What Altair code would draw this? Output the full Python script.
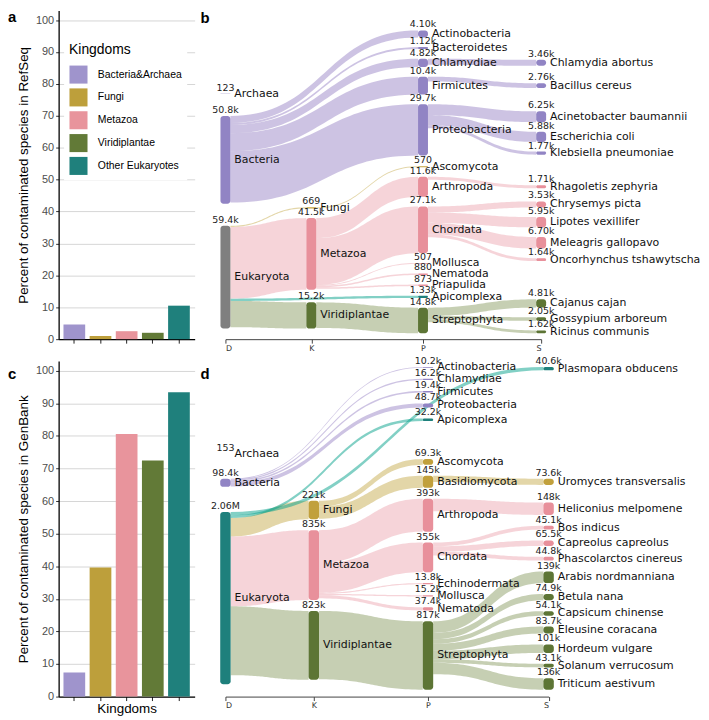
import altair as alt
import pandas as pd
import numpy as np

# ---------------- bar panels (a, c) ----------------
kingdoms = ["Bacteria&Archaea", "Fungi", "Metazoa", "Viridiplantae", "Other Eukaryotes"]
kingdom_colors = ["#9f94cc", "#bd9f3b", "#e8949c", "#627a37", "#1f807c"]
refseq_pct = [4.6, 1.0, 2.5, 2.0, 10.5]
genbank_pct = [7.4, 39.6, 80.6, 72.5, 93.4]
y_ticks = [0, 10, 20, 30, 40, 50, 60, 70, 80, 90, 100]

# ---------------- sankey panel b (RefSeq) ----------------
LEVELS = ["D", "K", "P", "S"]
b_names = ["Archaea", "Bacteria", "Eukaryota",
           "Fungi", "Metazoa", "Viridiplantae",
           "Actinobacteria", "Bacteroidetes", "Chlamydiae", "Firmicutes", "Proteobacteria",
           "Ascomycota", "Arthropoda", "Chordata", "Mollusca", "Nematoda", "Priapulida",
           "Apicomplexa", "Streptophyta",
           "Chlamydia abortus", "Bacillus cereus", "Acinetobacter baumannii", "Escherichia coli",
           "Klebsiella pneumoniae", "Rhagoletis zephyria", "Chrysemys picta", "Lipotes vexillifer",
           "Meleagris gallopavo", "Oncorhynchus tshawytscha", "Cajanus cajan", "Gossypium arboreum",
           "Ricinus communis"]
b_levels = ["D"] * 3 + ["K"] * 3 + ["P"] * 13 + ["S"] * 13
b_values = [123, 50800, 59400,
            669, 41500, 15200,
            4100, 1120, 4820, 10400, 29700, 570, 11600, 27100, 507, 880, 873, 1330, 14800,
            3460, 2760, 6250, 5880, 1770, 1710, 3530, 5950, 6700, 1640, 4810, 2050, 1620]
b_parents = ["", "", "",
             "Eukaryota", "Eukaryota", "Eukaryota",
             "Bacteria", "Bacteria", "Bacteria", "Bacteria", "Bacteria",
             "Fungi", "Metazoa", "Metazoa", "Metazoa", "Metazoa", "Metazoa",
             "Eukaryota", "Viridiplantae",
             "Chlamydiae", "Firmicutes", "Proteobacteria", "Proteobacteria", "Proteobacteria",
             "Arthropoda", "Chordata", "Chordata", "Chordata", "Chordata",
             "Streptophyta", "Streptophyta", "Streptophyta"]
b_groups = ["BA", "BA", "EU", "FU", "ME", "VI",
            "BA", "BA", "BA", "BA", "BA", "FU", "ME", "ME", "ME", "ME", "ME", "OE", "VI",
            "BA", "BA", "BA", "BA", "BA", "ME", "ME", "ME", "ME", "ME", "VI", "VI", "VI"]

# ---------------- sankey panel d (GenBank) ----------------
d_names = ["Archaea", "Bacteria", "Eukaryota",
           "Fungi", "Metazoa", "Viridiplantae",
           "Actinobacteria", "Chlamydiae", "Firmicutes", "Proteobacteria", "Apicomplexa",
           "Ascomycota", "Basidiomycota", "Arthropoda", "Chordata", "Echinodermata",
           "Mollusca", "Nematoda", "Streptophyta",
           "Plasmopara obducens", "Uromyces transversalis", "Heliconius melpomene",
           "Bos indicus", "Capreolus capreolus", "Phascolarctos cinereus",
           "Arabis nordmanniana", "Betula nana", "Capsicum chinense", "Eleusine coracana",
           "Hordeum vulgare", "Solanum verrucosum", "Triticum aestivum"]
d_levels = ["D"] * 3 + ["K"] * 3 + ["P"] * 13 + ["S"] * 13
d_values = [153, 98400, 2060000,
            221000, 835000, 823000,
            10200, 16200, 19400, 48700, 32200, 69300, 145000, 393000, 355000, 13800, 15200,
            37400, 817000,
            40600, 73600, 148000, 45100, 65500, 44800, 139000, 74900, 54100, 83700, 101000,
            43100, 136000]
d_parents = ["", "", "",
             "Eukaryota", "Eukaryota", "Eukaryota",
             "Bacteria", "Bacteria", "Bacteria", "Bacteria", "Eukaryota",
             "Fungi", "Fungi", "Metazoa", "Metazoa", "Metazoa", "Metazoa", "Metazoa",
             "Viridiplantae",
             "Eukaryota", "Basidiomycota", "Arthropoda", "Chordata", "Chordata", "Chordata",
             "Streptophyta", "Streptophyta", "Streptophyta", "Streptophyta", "Streptophyta",
             "Streptophyta", "Streptophyta"]
d_groups = ["BA", "BA", "OE", "FU", "ME", "VI",
            "BA", "BA", "BA", "BA", "OE", "FU", "FU", "ME", "ME", "ME", "ME", "ME", "VI",
            "OE", "FU", "ME", "ME", "ME", "ME", "VI", "VI", "VI", "VI", "VI", "VI", "VI"]

node_color = {"BA": "#9184c4", "FU": "#c1a03c", "ME": "#e8909b", "VI": "#5d7535",
              "OE": "#1e807c", "EU": "#7f7f7f"}
link_color = {"BA": "#9b87c7", "FU": "#c7ad51", "ME": "#eda9b3", "VI": "#8d9f67",
              "OE": "#06a28b", "EU": "#999999"}

# layout settings (pixels of the panel)
cfg_b = dict(H=331, top=20, bottom=325, ky=1.74e-3, pad=9.7, node_w=10,
             x0=223, gap_base=28, gap_char=6.5)
cfg_d = dict(H=339, top=6, bottom=332, ky=0.0845e-3, pad=11, node_w=10.5,
             x0=225, gap_base=30.5, gap_char=6.5)

H_ROW1 = 331
H_ROW2 = 338
BAR_W = 137
FONT_SANS = "Liberation Sans"
FONT_SK = "DejaVu Sans"


def isotonic(targets, weights):
    blocks = []
    for t, w in zip(targets, weights):
        blocks.append([t * w, w, 1])
        while len(blocks) > 1 and blocks[-2][0] / blocks[-2][1] > blocks[-1][0] / blocks[-1][1]:
            sw, ww, cc = blocks.pop()
            blocks[-1][0] += sw
            blocks[-1][1] += ww
            blocks[-1][2] += cc
    out = []
    for sw, ww, cc in blocks:
        out += [sw / ww] * cc
    return out


def sankey_layout(names, levels, values, parents, cfg, iters=32):
    n = len(names)
    col = [LEVELS.index(l) for l in levels]
    ky, top, bottom = cfg["ky"], cfg["top"], cfg["bottom"]
    pads = [2.3 * cfg["pad"], cfg["pad"], cfg["pad"], cfg["pad"]]
    h = [v * ky for v in values]
    idx = {nm: i for i, nm in enumerate(names)}
    links = [(idx[parents[i]], i, values[i]) for i in range(n) if parents[i]]
    out_l = {i: [] for i in range(n)}
    in_l = {i: [] for i in range(n)}
    for li, (s, t, v) in enumerate(links):
        out_l[s].append(li)
        in_l[t].append(li)
    columns = [[i for i in range(n) if col[i] == c] for c in range(4)]
    y0 = [0.0] * n
    # roots: fixed, stacked upward from the bottom
    y = bottom - cfg["pad"] / 2
    for i in reversed(columns[0]):
        y0[i] = y - h[i]
        y = y0[i] - pads[0]
    for c in range(1, 4):
        y = top
        for i in columns[c]:
            y0[i] = y
            y += h[i] + pads[c]

    def offsets():
        off = {}
        for s in range(n):
            acc = 0.0
            for li in sorted(out_l[s], key=lambda q: y0[links[q][1]]):
                off[li] = acc
                acc += links[li][2] * ky
        return off

    def resolve(c, alpha):
        nodes = columns[c]
        pad = pads[c]
        m = len(nodes)
        if m == 0:
            return

        def b2t(y, start):
            for k in range(start, -1, -1):
                nd = nodes[k]
                dy = (y0[nd] + h[nd] - y) * alpha
                if dy > 1e-6:
                    y0[nd] -= dy
                y = y0[nd] - pad

        def t2b(y, start):
            for k in range(start, m):
                nd = nodes[k]
                dy = (y - y0[nd]) * alpha
                if dy > 1e-6:
                    y0[nd] += dy
                y = y0[nd] + h[nd] + pad

        i = m >> 1
        sj = nodes[i]
        b2t(y0[sj] - pad, i - 1)
        t2b(y0[sj] + h[sj] + pad, i + 1)
        b2t(bottom, m - 1)
        t2b(top, 0)

    def place_leaves():
        # species column: each node centred on its parent, overlaps solved by
        # weighted isotonic regression (order kept, padding respected)
        S = columns[3]
        pad = pads[3]
        tg, wt, offs = [], [], []
        acc = 0.0
        for i in S:
            ls = [links[li] for li in in_l[i] if col[links[li][0]] == 2]
            if ls:
                ideal = sum((y0[s] + h[s] / 2 - h[i] / 2) * v for s, _, v in ls) / sum(v for _, _, v in ls)
            else:
                ideal = y0[i]
            offs.append(acc)
            tg.append(ideal - acc)
            wt.append(max(values[i], 1))
            acc += h[i] + pad
        span = acc - pad
        z = isotonic(tg, wt)
        for k, i in enumerate(S):
            y0[i] = min(max(z[k], top), bottom - span) + offs[k]

    for it in range(iters):
        alpha = 0.99 ** it
        beta = max(1 - alpha, (it + 1) / iters)
        off = offsets()
        for c in (2, 1):
            for s in columns[c]:
                ls = [li for li in out_l[s] if col[links[li][1]] == c + 1]
                if not ls:
                    continue
                ys = ws = 0.0
                for li in ls:
                    _, t, v = links[li]
                    if c + 1 == 3:
                        ys += (y0[t] + h[t] / 2 - h[s] / 2) * v
                    else:
                        ys += (y0[t] - off[li]) * v
                    ws += v
                y0[s] += (ys / ws - y0[s]) * alpha
            resolve(c, beta)
        off = offsets()
        for c in (1, 2):
            for t in columns[c]:
                ls = [li for li in in_l[t] if col[links[li][0]] == c - 1]
                if not ls:
                    continue
                ys = ws = 0.0
                for li in ls:
                    s, _, v = links[li]
                    ys += (y0[s] + off[li]) * v
                    ws += v
                y0[t] += (ys / ws - y0[t]) * alpha
            resolve(c, beta)
        place_leaves()
    for c in (1, 2):
        resolve(c, 1.0)
    place_leaves()
    off = offsets()
    return col, h, y0, links, off


def letter_layer(letter, px, py):
    return alt.Chart(pd.DataFrame({"t": [letter]})).mark_text(
        align="left", baseline="alphabetic", fontSize=15, fontWeight="bold",
        font=FONT_SANS, color="black"
    ).encode(x=alt.value(px), y=alt.value(py), text="t:N")


def sankey_chart(names, levels, values, parents, groups, cfg, letter, height, letter_y):
    col, h, y0, links, off = sankey_layout(names, levels, values, parents, cfg)
    nw = cfg["node_w"]
    # column positions from the longest label of each column
    colx = [cfg["x0"]]
    for c in range(3):
        maxlen = max(len(nm) for nm, cc in zip(names, col) if cc == c)
        colx.append(colx[-1] + cfg["gap_base"] + cfg["gap_char"] * maxlen)
    centers = [x + nw / 2 for x in colx]

    nodes = pd.DataFrame({
        "name": names,
        "value": values,
        "x0": [colx[c] for c in col],
        "x1": [colx[c] + nw for c in col],
        "xc": [colx[c] + nw / 2 for c in col],
        "y0": y0,
        "y1": [a + b for a, b in zip(y0, h)],
        "yc": [a + b / 2 for a, b in zip(y0, h)],
        "color": [node_color[g] for g in groups],
    })

    rows = []
    tt = np.linspace(0, 1, 41)
    fx = 1.5 * tt - 1.5 * tt ** 2 + tt ** 3
    fy = 3 * tt ** 2 - 2 * tt ** 3
    order = sorted(range(len(links)), key=lambda q: groups[links[q][1]] == "OE")
    for li in order:
        s, t, v = links[li]
        xs, xt = colx[col[s]] + nw, colx[col[t]]
        ys, yt = y0[s] + off[li], y0[t]
        w = v * cfg["ky"]
        for a, b in zip(fx, fy):
            yy = ys + (yt - ys) * b
            rows.append({"link": li, "x": xs + (xt - xs) * a, "y": yy, "y2": yy + w,
                         "color": link_color[groups[t]]})
    ldf = pd.DataFrame(rows)

    xs_ = alt.Scale(domain=[centers[0], centers[3]], nice=False, zero=False)
    ys_ = alt.Scale(domain=[0, cfg["H"]], reverse=True, nice=False, zero=False)
    mids = [(centers[i] + centers[i + 1]) / 2 for i in range(3)]
    lab = (f"datum.value < {mids[0]:.1f} ? 'D' : datum.value < {mids[1]:.1f} ? 'K' : "
           f"datum.value < {mids[2]:.1f} ? 'P' : 'S'")
    xaxis = alt.Axis(values=centers, labelExpr=lab, title=None, grid=False,
                     domainColor="#444", tickColor="#444", tickSize=4, labelFontSize=8,
                     labelFont=FONT_SK, labelColor="#333", labelPadding=1)

    link_layer = alt.Chart(ldf).mark_area(opacity=0.5, interpolate="linear").encode(
        x=alt.X("x:Q", scale=xs_, axis=xaxis),
        y=alt.Y("y:Q", scale=ys_, axis=None),
        y2="y2:Q",
        detail="link:N",
        color=alt.Color("color:N", scale=None),
    )
    node_layer = alt.Chart(nodes).mark_rect(cornerRadius=3).encode(
        x=alt.X("x0:Q", scale=xs_, axis=xaxis), x2="x1:Q",
        y=alt.Y("y0:Q", scale=ys_, axis=None), y2="y1:Q",
        color=alt.Color("color:N", scale=None),
    )
    val_layer = alt.Chart(nodes).mark_text(
        baseline="bottom", align="center", dy=-1, fontSize=9.5, font=FONT_SK, color="#222"
    ).encode(
        x=alt.X("xc:Q", scale=xs_, axis=xaxis),
        y=alt.Y("y0:Q", scale=ys_, axis=None),
        text=alt.Text("value:Q", format=".3s"),
    )
    name_layer = alt.Chart(nodes).mark_text(
        baseline="middle", align="left", dx=4, fontSize=11, font=FONT_SK, color="#111"
    ).encode(
        x=alt.X("x1:Q", scale=xs_, axis=xaxis),
        y=alt.Y("yc:Q", scale=ys_, axis=None),
        text="name:N",
    )
    return alt.layer(link_layer, node_layer, val_layer, name_layer,
                     letter_layer(letter, -25, letter_y)).properties(
        width=centers[3] - centers[0], height=height)


def bar_chart(vals, ytitle, letter, with_legend, xtitle, height):
    df = pd.DataFrame({"kingdom": kingdoms, "pct": vals})
    if with_legend:
        leg = alt.Legend(title="Kingdoms", orient="none", legendX=5.5, legendY=28,
                         fillColor="white", padding=5, symbolType="square", symbolSize=330,
                         symbolStrokeWidth=0, symbolOpacity=1, labelFontSize=10.5,
                         labelFont=FONT_SANS, labelColor="black", titleFontSize=14,
                         titleFont=FONT_SANS, titleFontWeight="normal", titleColor="black",
                         rowPadding=4, labelOffset=10, titlePadding=8)
    else:
        leg = None
    xax = dict(labels=False, ticks=True, tickSize=4, tickColor="#222", domainColor="black",
               domainWidth=1.3, grid=False)
    if xtitle:
        xax.update(title=xtitle, titleFontSize=13.5, titleFont=FONT_SANS,
                   titleFontWeight="normal", titleColor="black", titlePadding=1)
    else:
        xax.update(title=None)
    bars = alt.Chart(df).mark_bar().encode(
        x=alt.X("kingdom:N", sort=kingdoms,
                scale=alt.Scale(paddingInner=0.17, paddingOuter=0.185),
                axis=alt.Axis(**xax)),
        y=alt.Y("pct:Q", scale=alt.Scale(domain=[0, 103], nice=False, zero=True),
                axis=alt.Axis(values=y_ticks, grid=True, gridColor="#d6d6d6", gridWidth=1,
                              tickSize=3, tickColor="#333", labelColor="#4d4d4d",
                              labelFontSize=11, labelFont=FONT_SANS, labelPadding=2,
                              domainColor="black", domainWidth=1.3, title=ytitle,
                              titleFontSize=13.5, titleFont=FONT_SANS,
                              titleFontWeight="normal", titleColor="black", titlePadding=5)),
        color=alt.Color("kingdom:N", scale=alt.Scale(domain=kingdoms, range=kingdom_colors),
                        legend=leg),
    )
    return alt.layer(bars, letter_layer(letter, -51, 12 if with_legend else 18)).properties(
        width=BAR_W, height=height)


a = bar_chart(refseq_pct, "Percent of contaminated species in RefSeq", "a", True, None, H_ROW1)
c = bar_chart(genbank_pct, "Percent of contaminated species in GenBank", "c", False,
              "Kingdoms", H_ROW2)
b = sankey_chart(b_names, b_levels, b_values, b_parents, b_groups, cfg_b, "b", H_ROW1, 13)
d = sankey_chart(d_names, d_levels, d_values, d_parents, d_groups, cfg_d, "d", H_ROW2, 18)

row1 = alt.hconcat(a, b, spacing=6).resolve_scale(color="independent").resolve_legend(color="independent")
row2 = alt.hconcat(c, d, spacing=6).resolve_scale(color="independent").resolve_legend(color="independent")
chart = alt.vconcat(row1, row2, spacing=3).resolve_scale(
    color="independent").resolve_legend(color="independent").properties(
    padding=0, background="white").configure_view(stroke=None)

chart.save("out.html", embed_options={"renderer": "svg", "actions": False})
